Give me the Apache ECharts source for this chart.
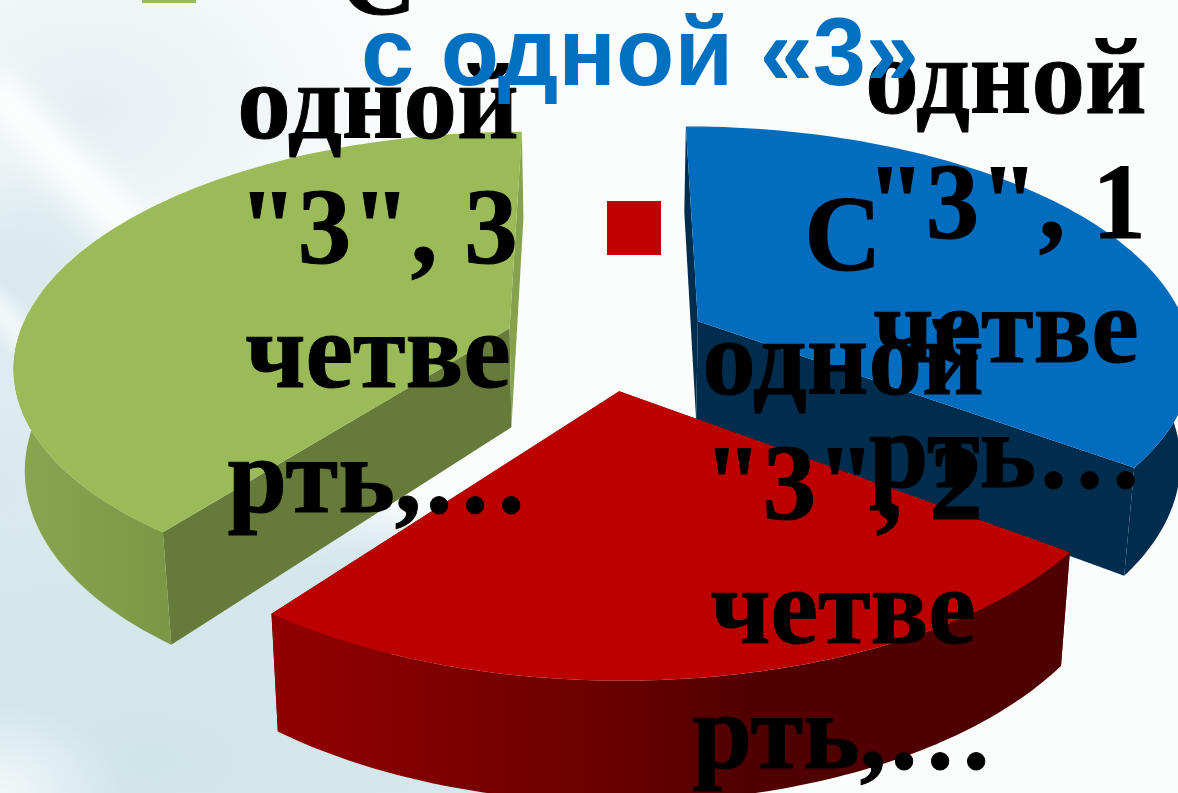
<!DOCTYPE html>
<html><head><meta charset="utf-8">
<style>
html,body{margin:0;padding:0;width:1178px;height:793px;overflow:hidden;background:#fbfdfd}
#bg{position:absolute;left:0;top:0;width:1178px;height:793px;overflow:hidden;background:
 radial-gradient(ellipse 120px 90px at 0px 793px,rgba(245,249,250,.9) 0%,rgba(245,249,250,0) 100%),
 radial-gradient(ellipse 560px 300px at 150px 760px,rgba(208,229,234,1) 0%,rgba(212,231,236,.95) 60%,rgba(222,237,241,0) 100%),
 radial-gradient(ellipse 300px 300px at 0px 480px,rgba(216,232,237,1) 0%,rgba(224,237,241,.8) 55%,rgba(240,246,248,0) 100%),
 radial-gradient(ellipse 150px 130px at 20px 290px,rgba(205,225,230,1) 0%,rgba(215,231,235,.7) 55%,rgba(235,243,245,0) 100%),
 radial-gradient(ellipse 170px 110px at 340px 610px,rgba(178,208,224,.85) 0%,rgba(190,215,228,0) 100%),
 radial-gradient(ellipse 320px 230px at 90px 110px,rgba(228,238,242,.95) 0%,rgba(240,246,248,0) 100%),
 #fbfdfd}
#s1{position:absolute;left:-50px;top:145px;width:230px;height:38px;background:#fff;transform:rotate(46deg);filter:blur(14px)}
#s3{position:absolute;left:-30px;top:320px;width:90px;height:18px;background:#fff;transform:rotate(50deg);filter:blur(8px);opacity:.8}
#c{position:absolute;left:0;top:0;width:1178px;height:793px}
</style>
<script src="https://cdn.jsdelivr.net/npm/echarts@6/dist/echarts.min.js"></script>
</head><body><div id="bg"><div id="s1"></div><div id="s3"></div></div><div id="c"></div>
<script>
// ---- data ----
const categories = ['1 четверть', '2 четверть', '3 четверть'];
const values = [35.2, 25.1, 39.7];
const labelLines = [
  'С\nодной\n"3", 1\nчетве\nрть…',
  'С\nодной\n"3", 2\nчетве\nрть,…',
  'С\nодной\n"3", 3\nчетве\nрть,…'
];
const titleText = 'с одной «3»';
// ---- styling ----
const topColors = ['#026dbf', '#bc0000', '#9bbb59'];
const legendColors = ['#0070c0', '#c00000', '#9bbb59'];
const startFace = ['#002c4e', '#500000', '#667a3a'];
const endFace = ['#002c4e', '#500000', '#86a24c'];
const arcStops = [
  [[0, '#002c4e'], [1, '#002c4e']],
  [[0, '#930000'], [0.42, '#6a0000'], [0.6, '#500000'], [1, '#4f0000']],
  [[0, '#8aa650'], [1, '#7b9846']]
];
const labelAnchor = [[1006, 210], [843, 491], [378, 235]];
const explode = [0.215, 0.205, 0.205];
const view = {cx: 604.5, cy: 343, a: 493, b: 230, k: 0.15, depth: 100, taper: 0.019};

const total = values.reduce((s, v) => s + v, 0);
function proj(u, v) {
  const w = 1 - view.k * v;
  return [view.cx + view.a * u / w, view.cy + view.b * v / w];
}
function projLow(u, v) {
  const p = proj(u, v), w = 1 - view.k * v;
  return [p[0] - (p[0] - view.cx) * view.taper, p[1] + view.depth / w];
}
function sliceAngles(i) {
  let s = 0;
  for (let j = 0; j < i; j++) s += values[j];
  return [s / total * 2 * Math.PI, (s + values[i]) / total * 2 * Math.PI];
}
function renderSlice(params, api) {
  const i = api.value(0);
  const [a0, a1] = sliceAngles(i);
  const mid = (a0 + a1) / 2;
  const ou = Math.sin(mid) * explode[i], ov = -Math.cos(mid) * explode[i];
  const n = 100, rim = [], angles = [];
  for (let t = 0; t <= n; t++) {
    const a = a0 + (a1 - a0) * t / n;
    angles.push(a);
    rim.push([ou + Math.sin(a), ov - Math.cos(a)]);
  }
  const top = rim.map(p => proj(p[0], p[1]));
  const low = rim.map(p => projLow(p[0], p[1]));
  // only the front-facing part of the rim gets a side wall
  const front = angles.map((a, t) => t).filter(t => Math.cos(angles[t]) < 0.08);
  const topF = front.map(t => top[t]), lowF = front.map(t => low[t]);
  const apex = proj(ou, ov), apexLow = projLow(ou, ov);
  const xs = topF.map(p => p[0]);
  const grad = new echarts.graphic.LinearGradient(
    Math.min(...xs), 0, Math.max(...xs), 0,
    arcStops[i].map(s => ({offset: s[0], color: s[1]})), true);
  const poly = (points, fill) => ({type: 'polygon', shape: {points}, style: {fill, stroke: null}, silent: true});
  return {type: 'group', children: [
    poly([apex, top[0], low[0], apexLow], startFace[i]),
    poly([apex, top[n], low[n], apexLow], endFace[i]),
    poly(topF.concat(lowF.slice().reverse()), grad),
    poly([apex].concat(top), topColors[i])
  ]};
}
function renderLabel(params, api) {
  const i = api.value(0);
  return {type: 'text', silent: true, style: {
    x: labelAnchor[i][0], y: labelAnchor[i][1], text: labelLines[i],
    fontFamily: 'Liberation Serif', fontWeight: 'bold', fontSize: 107,
    lineHeight: 124.5, fill: '#000', stroke: '#000', lineWidth: 1, align: 'center', verticalAlign: 'middle'
  }};
}
const chart = echarts.init(document.getElementById('c'), null, {renderer: 'canvas'});
chart.setOption({
  animation: false,
  backgroundColor: 'transparent',
  title: {text: titleText, left: 635, top: 6, textAlign: 'center', z: 20,
    textStyle: {fontFamily: 'Liberation Sans', fontWeight: 'bold', fontSize: 95.5, color: '#0070c0'}},
  graphic: [
    {type: 'rect', z: 1, shape: {x: 142, y: -51, width: 54, height: 54}, style: {fill: legendColors[2]}},
    {type: 'rect', z: 1, shape: {x: 607, y: 201, width: 54, height: 54}, style: {fill: legendColors[1]}}
  ],
  xAxis: {show: false}, yAxis: {show: false},
  series: [
    {type: 'custom', coordinateSystem: 'none', renderItem: renderSlice, z: 2, clip: false,
     name: 'с одной «3»', data: [0, 2, 1].map(i => [i, values[i], categories[i]])},
    {type: 'custom', coordinateSystem: 'none', renderItem: renderLabel, z: 3, clip: false,
     data: [0, 2, 1].map(i => [i, values[i]])}
  ]
});
</script></body></html>
